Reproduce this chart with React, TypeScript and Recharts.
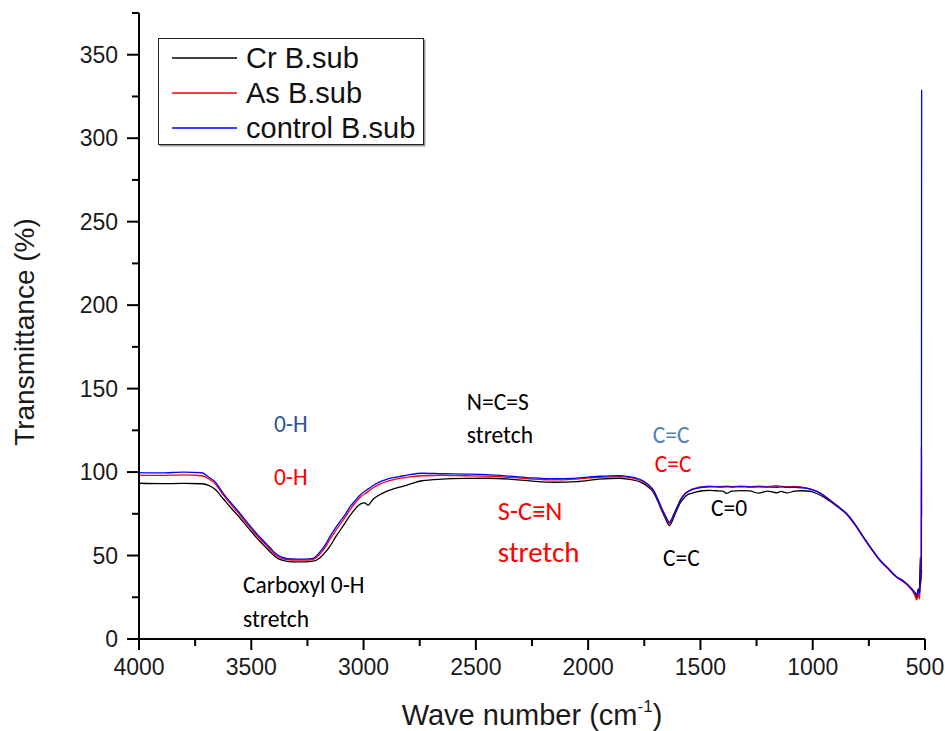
import { LineChart, Line, XAxis, YAxis, Legend, ReferenceDot } from 'recharts';

// FTIR spectra of B. subtilis biomass (wave number in cm-1, transmittance in %)
const waveNumbers = [
  4000, 3900, 3800, 3720, 3690, 3660, 3625, 3590, 3550, 3510,
  3475, 3440, 3415, 3390, 3370, 3340, 3300, 3260, 3225, 3195,
  3170, 3150, 3125, 3105, 3080, 3060, 3040, 3015, 2995, 2980,
  2965, 2955, 2930, 2900, 2880, 2840, 2800, 2740, 2650, 2550,
  2450, 2350, 2250, 2150, 2050, 1950, 1860, 1820, 1785, 1760,
  1740, 1720, 1710, 1698, 1688, 1676, 1665, 1652, 1638, 1626,
  1614, 1602, 1590, 1576, 1562, 1540, 1517, 1490, 1460, 1430,
  1400, 1384, 1360, 1320, 1280, 1243, 1200, 1161, 1140, 1116,
  1080, 1050, 1012, 980, 950, 923, 890, 850, 810, 775,
  740, 701, 665, 627, 600, 575, 555, 545, 537, 530,
  525, 521, 518, 516, 515,
];

const crBsub = [
  93.3, 93.1, 93.2, 93, 92, 89.5, 84, 78.5, 72.5, 66,
  60.5, 55.5, 52, 49, 47.5, 46.5, 46.2, 46.2, 46.6, 48.5,
  52, 55.5, 61, 65, 70, 74, 77.5, 80.8, 81.5, 80.2,
  82.5, 84, 86.3, 88.3, 89.3, 91, 92.5, 94.8, 95.8, 96.2,
  96.3, 95.8, 94.6, 93.9, 94.3, 95.8, 96.3, 95.7, 94.8, 93.5,
  91.8, 89.6, 88, 85, 82, 78, 74.8, 71, 67.9, 70.5,
  74.5, 78.2, 81.5, 84, 86, 87.3, 88.2, 88.8, 89, 88.8,
  88.6, 87.2, 88.6, 88.9, 88.7, 87.4, 88.6, 87.6, 88.4, 87.5,
  88.6, 88.8, 88.5, 87, 85, 82.5, 79.2, 74.8, 68, 61,
  54.2, 47.2, 42.3, 37.2, 35.2, 32, 29, 27, 25, 30,
  28, 49, 36, 42, 40,
];

const asBsub = [
  98.2, 98, 98.3, 97.8, 96, 92.8, 86.3, 80.5, 74.3, 67.5,
  62, 57, 53.5, 50.2, 48.6, 47.5, 47.2, 47.2, 47.7, 50.8,
  55, 59.5, 64.8, 68.5, 73.3, 77.5, 81, 84.8, 87, 88.3,
  89.8, 90.8, 92.6, 94.2, 95, 96.2, 97, 97.8, 98, 97.8,
  97.6, 96.8, 95.8, 95.3, 95.8, 96.9, 97.3, 96.8, 95.8, 94.5,
  92.8, 90.6, 89, 86, 83, 79, 75.8, 72.2, 69.2, 72,
  75.8, 79.5, 83.2, 86, 87.9, 89.6, 90.6, 91.2, 91.5, 91.3,
  91.4, 91.5, 91.3, 91.5, 91.3, 91.6, 91.3, 91.8, 91.4, 91.2,
  91.4, 91, 90, 88.4, 86, 83, 79.5, 75, 68, 61,
  54, 47, 42, 37, 34.6, 31.8, 28.6, 26, 23.4, 27,
  24, 32, 35, 115, 74,
];

const controlBsub = [
  99.7, 99.5, 100, 99.6, 97, 94, 87.3, 81.5, 75.3, 68.5,
  63, 58, 54.5, 51, 49.3, 48.2, 47.9, 47.9, 48.3, 52,
  56.5, 61.3, 66.5, 70.3, 75, 79.3, 82.5, 86.3, 88.5, 89.8,
  91.2, 92.2, 94, 95.5, 96.3, 97.3, 98.3, 99.3, 99, 98.8,
  98.5, 97.6, 96.5, 96, 96.4, 97.5, 97.9, 97.3, 96.3, 95,
  93.3, 91, 89.3, 86.3, 83.3, 79.5, 76.3, 72.8, 69.8, 72.5,
  76, 79.5, 83, 85.8, 87.6, 89.3, 90.3, 90.9, 91.2, 91.1,
  91, 91.2, 91, 91.2, 91, 91.1, 91, 90.9, 91.1, 90.8,
  90.9, 90.6, 89.8, 88.3, 86, 83.3, 79.8, 75.3, 68.5, 61.3,
  54.5, 47.3, 42.5, 37.3, 35, 32.4, 29.5, 28, 26.4, 29,
  27, 33, 38, 45, 329,
];

const seriesNames = ['Cr B.sub', 'As B.sub', 'control B.sub'];
const waveTicks = [4000, 3750, 3500, 3250, 3000, 2750, 2500, 2250, 2000, 1750, 1500, 1250, 1000, 750, 500];
const transTicks = [0, 25, 50, 75, 100, 125, 150, 175, 200, 225, 250, 275, 300, 325, 350, 375];

const spectra = waveNumbers.map((wave, i) => ({
  wave,
  cr: crBsub[i],
  as: asBsub[i],
  control: controlBsub[i],
}));

// band assignments written on the plot
const notes = [
  { text: '0-H', wave: 3399, level: 124, color: '#2f5496', size: 23.5 },
  { text: '0-H', wave: 3399, level: 92.3, color: '#ff0000', size: 23.5 },
  { text: 'Carboxyl 0-H', wave: 3537, level: 27.6, color: '#000', size: 23.5 },
  { text: 'stretch', wave: 3537, level: 7.2, color: '#000', size: 23.5 },
  { text: 'N=C=S', wave: 2540, level: 137.2, color: '#000', size: 23.5 },
  { text: 'stretch', wave: 2540, level: 117.4, color: '#000', size: 23.5 },
  { text: 'C=C', wave: 1712, level: 117.4, color: '#4f81bd', size: 23.5 },
  { text: 'C=C', wave: 1703, level: 100, color: '#ff0000', size: 23.5 },
  { text: 'S-C≡N', wave: 2402, level: 71.3, color: '#ff0000', size: 26.5 },
  { text: 'stretch', wave: 2402, level: 46.1, color: '#ff0000', size: 29 },
  { text: 'C=0', wave: 1453, level: 73.7, color: '#000', size: 23.5 },
  { text: 'C=C', wave: 1667, level: 43.7, color: '#000', size: 23.5 },
];

const AXIS_FONT = '"Liberation Sans", Arial, sans-serif';
const NOTE_FONT = 'Carlito, Calibri, Lato, sans-serif';

function WaveTick({ x, y, payload }: any) {
  const major = payload.value % 500 === 0;
  return (
    <g>
      <line x1={x} x2={x} y1={y} y2={y + (major ? 11 : 7)} stroke="#000" strokeWidth={2} />
      {major && (
        <text x={x} y={y + 36} textAnchor="middle" fontSize={23} fontFamily={AXIS_FONT} fill="#1a1a1a">
          {payload.value}
        </text>
      )}
    </g>
  );
}

function TransTick({ x, y, payload }: any) {
  const major = payload.value % 50 === 0;
  return (
    <g>
      <line x1={x} x2={x - (major ? 12 : 7)} y1={y} y2={y} stroke="#000" strokeWidth={2} />
      {major && (
        <text x={x - 21} y={y + 8} textAnchor="end" fontSize={23} fontFamily={AXIS_FONT} fill="#1a1a1a">
          {payload.value}
        </text>
      )}
    </g>
  );
}

const yTitle = ({ viewBox }: any) => {
  const cx = viewBox.x + 34;
  const cy = viewBox.y + viewBox.height / 2 + 6;
  return (
    <text x={cx} y={cy} transform={`rotate(-90, ${cx}, ${cy})`} textAnchor="middle" fontSize={28} fontFamily={AXIS_FONT} fill="#1a1a1a">
      Transmittance (%)
    </text>
  );
};

const xTitle = ({ viewBox }: any) => (
  <text x={viewBox.x + viewBox.width / 2} y={viewBox.y + 86} textAnchor="middle" fontSize={29} fontFamily={AXIS_FONT} fill="#1a1a1a">
    Wave number (cm
    <tspan fontSize={17} dy={-13}>-1</tspan>
    <tspan dy={13}>)</tspan>
  </text>
);

function LegendBox({ payload }: any) {
  const items = [...(payload || [])].sort(
    (a: any, b: any) => seriesNames.indexOf(a.value) - seriesNames.indexOf(b.value),
  );
  return (
    <svg width={268} height={109} style={{ display: 'block' }}>
      <rect x={1.5} y={1.5} width={266} height={107} fill="#999" />
      <rect x={0.5} y={0.5} width={265} height={106} fill="#fff" stroke="#222" strokeWidth={1} />
      {items.map((item: any, i: number) => (
        <g key={item.value}>
          <line x1={14} x2={79} y1={20 + i * 35} y2={20 + i * 35} stroke={item.color} strokeWidth={1.3} />
          <text x={88} y={30 + i * 35} fontSize={29} fontFamily={AXIS_FONT} fill="#111">
            {item.value}
          </text>
        </g>
      ))}
    </svg>
  );
}

export default function App() {
  return (
    <div style={{ position: 'absolute', left: 0, top: 0, background: '#fff' }}>
      <LineChart width={945} height={731} data={spectra} margin={{ top: 13, right: 20, left: 0, bottom: 0 }}>
        <XAxis
          dataKey="wave"
          type="number"
          domain={[500, 4000]}
          reversed
          ticks={waveTicks}
          interval={0}
          tickSize={0}
          tickMargin={0}
          height={92}
          axisLine={{ stroke: '#000', strokeWidth: 2 }}
          tickLine={false}
          tick={<WaveTick />}
          label={{ content: xTitle }}
        />
        <YAxis
          type="number"
          domain={[0, 375]}
          ticks={transTicks}
          interval={0}
          tickSize={0}
          tickMargin={0}
          width={139}
          axisLine={{ stroke: '#000', strokeWidth: 2 }}
          tickLine={false}
          tick={<TransTick />}
          label={{ content: yTitle }}
        />
        <Legend
          layout="vertical"
          align="center"
          verticalAlign="middle"
          wrapperStyle={{ left: 158, top: 38, width: 268 }}
          content={<LegendBox />}
        />
        <Line type="monotone" dataKey="cr" name={seriesNames[0]} stroke="#000000" strokeWidth={1.3} dot={false} isAnimationActive={false} />
        <Line type="monotone" dataKey="as" name={seriesNames[1]} stroke="#ff0000" strokeWidth={1.3} dot={false} isAnimationActive={false} />
        <Line type="monotone" dataKey="control" name={seriesNames[2]} stroke="#0000ff" strokeWidth={1.3} dot={false} isAnimationActive={false} />
        {notes.map((n, i) => (
          <ReferenceDot
            key={i}
            x={n.wave}
            y={n.level}
            r={0}
            fill="none"
            stroke="none"
            label={(p: any) => (
              <text x={p.viewBox.x} y={p.viewBox.y} fill={n.color} fontSize={n.size} fontFamily={NOTE_FONT}>
                {n.text}
              </text>
            )}
          />
        ))}
      </LineChart>
    </div>
  );
}
